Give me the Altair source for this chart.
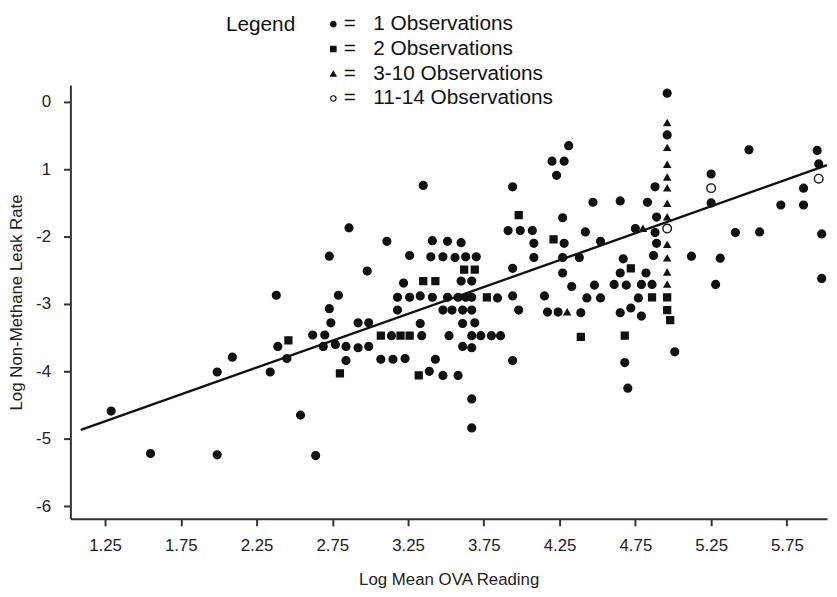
import altair as alt
import pandas as pd

# ---- data ----
c1_x = [1.29, 1.55, 1.99, 1.99, 2.09, 2.34, 2.39, 2.38, 2.45, 2.54, 2.62, 2.64, 2.70, 2.69,
        2.73, 2.74, 2.77, 2.84, 2.84, 2.92, 2.92, 2.99, 2.99, 2.86, 2.73, 2.98, 2.79,
        3.35, 3.11, 3.41, 3.51, 3.60,
        3.26, 3.40, 3.48, 3.56, 3.63, 3.70,
        3.22, 3.60, 3.67,
        3.18, 3.26, 3.33, 3.41, 3.51, 3.58, 3.63, 3.67, 3.84,
        3.18, 3.48, 3.54, 3.61, 3.67,
        3.33, 3.61, 3.69,
        3.14, 3.34, 3.52, 3.67, 3.73, 3.80, 3.86,
        3.61, 3.67,
        3.07, 3.15, 3.23, 3.43,
        3.39, 3.48, 3.58,
        3.67, 3.67,
        3.94, 3.91, 3.99, 3.94, 3.94, 3.98, 3.94,
        4.31, 4.20, 4.28, 4.23,
        4.47, 4.65, 4.83, 4.88,
        4.27, 4.07, 4.42, 4.75,
        4.08, 4.28, 4.52,
        4.08, 4.27, 4.38, 4.67,
        4.27, 4.65, 4.82,
        4.33, 4.48, 4.61, 4.69, 4.79, 4.86,
        4.15, 4.43, 4.52, 4.77,
        4.17, 4.24, 4.39, 4.65, 4.72, 4.79,
        4.68, 4.70,
        4.89, 4.88, 4.89, 4.87,
        5.01,
        4.96, 4.96,
        5.25, 5.25, 5.12, 5.31, 5.28, 5.41, 5.50, 5.57, 5.71, 5.86, 5.86, 5.95, 5.96, 5.98, 5.98]
c1_y = [-4.59, -5.22, -4.01, -5.24, -3.79, -4.01, -3.63, -2.87, -3.81, -4.65, -3.46, -5.25, -3.46, -3.63,
        -3.07, -3.28, -3.60, -3.63, -3.84, -3.28, -3.65, -3.28, -3.63, -1.87, -2.29, -2.51, -2.87,
        -1.24, -2.07, -2.06, -2.07, -2.09,
        -2.28, -2.30, -2.30, -2.31, -2.30, -2.30,
        -2.69, -2.66, -2.66,
        -2.90, -2.90, -2.88, -2.90, -2.90, -2.90, -2.90, -2.90, -2.91,
        -3.09, -3.09, -3.09, -3.09, -3.09,
        -3.29, -3.29, -3.28,
        -3.47, -3.47, -3.47, -3.47, -3.47, -3.47, -3.47,
        -3.63, -3.65,
        -3.82, -3.82, -3.81, -3.82,
        -4.00, -4.06, -4.06,
        -4.41, -4.84,
        -1.26, -1.91, -1.91, -2.47, -2.88, -3.09, -3.84,
        -0.65, -0.88, -0.88, -1.09,
        -1.49, -1.47, -1.49, -1.26,
        -1.72, -1.91, -1.93, -1.88,
        -2.10, -2.10, -2.07,
        -2.31, -2.31, -2.31, -2.33,
        -2.54, -2.54, -2.54,
        -2.74, -2.72, -2.71, -2.72, -2.71, -2.71,
        -2.88, -2.91, -2.91, -2.91,
        -3.12, -3.12, -3.13, -3.13, -3.06, -3.18,
        -3.87, -4.25,
        -1.71, -1.94, -2.10, -2.28,
        -3.71,
        0.13, -0.49,
        -1.07, -1.50, -2.29, -2.32, -2.71, -1.94, -0.71, -1.93, -1.53, -1.53, -1.28, -0.72, -0.92, -1.96, -2.62]

c2_x = [2.46, 2.80, 3.62, 3.69, 3.35, 3.43, 3.77, 3.07, 3.20, 3.26, 3.32, 3.98, 4.21, 4.39,
        4.68, 4.72, 4.86, 4.96, 4.96, 4.98]
c2_y = [-3.54, -4.03, -2.49, -2.49, -2.66, -2.66, -2.90, -3.47, -3.47, -3.47, -4.06, -1.68, -2.04, -3.49,
        -3.47, -2.47, -2.90, -2.90, -3.09, -3.24]

c3_x = [4.30, 4.80, 4.96, 4.96, 4.96, 4.96, 4.96, 4.96, 4.96, 4.96, 4.96, 4.96, 4.96]
c3_y = [-3.12, -1.88, -0.31, -0.68, -0.93, -1.12, -1.28, -1.51, -1.71, -2.12, -2.32, -2.53, -2.71]

c4_x = [4.96, 5.25, 5.96]
c4_y = [-1.88, -1.28, -1.14]

categories = ["1 Observations", "2 Observations", "3-10 Observations", "11-14 Observations"]

fit_intercept = -5.74
fit_slope = 0.798
fit_x = [1.09, 6.015]

x_ticks = [1.25, 1.75, 2.25, 2.75, 3.25, 3.75, 4.25, 4.75, 5.25, 5.75]
y_ticks = [0, -1, -2, -3, -4, -5, -6]

# ---- build tables ----
marker_area = {"1 Observations": 62, "2 Observations": 48,
               "3-10 Observations": 38, "11-14 Observations": 75}
rows = []
for cat, xs, ys in zip(categories, [c1_x, c2_x, c3_x, c4_x], [c1_y, c2_y, c3_y, c4_y]):
    for a, b in zip(xs, ys):
        rows.append({"x": a, "y": b, "cat": cat, "sz": marker_area[cat]})
df = pd.DataFrame(rows)
line_df = pd.DataFrame({"x": fit_x, "y": [fit_intercept + fit_slope * v for v in fit_x]})

FONT = "Liberation Sans"
xscale = alt.Scale(domain=[1.021, 6.015], nice=False, zero=False)
yscale = alt.Scale(domain=[-6.19, 0.25], nice=False, zero=False)

legend = alt.Legend(title="Legend", orient="none", legendX=157, legendY=-72,
                    titleOrient="left", titleAnchor="start", titlePadding=27,
                    labelExpr="'=\u00a0\u00a0\u00a0' + datum.label", labelLimit=0,
                    symbolSize=30, symbolStrokeWidth=1.2, symbolStrokeColor="#111",
                    rowPadding=3, labelOffset=0,
                    labelFontSize=21, titleFontSize=21,
                    titleFontWeight="normal", labelFont=FONT, titleFont=FONT,
                    labelColor="#111", titleColor="#111")

points = alt.Chart(df).mark_point(opacity=1, fillOpacity=1, strokeWidth=1.4).encode(
    x=alt.X("x:Q", scale=xscale,
            axis=alt.Axis(title="Log Mean OVA Reading", values=x_ticks, format=".2f")),
    y=alt.Y("y:Q", scale=yscale,
            axis=alt.Axis(title="Log Non-Methane Leak Rate", values=y_ticks,
                          labelExpr="datum.value == -1 ? '1' : '' + datum.value")),
    shape=alt.Shape("cat:N", scale=alt.Scale(domain=categories,
                    range=["circle", "square", "triangle-up", "circle"]), legend=legend),
    fill=alt.Fill("cat:N", scale=alt.Scale(domain=categories,
                  range=["#111", "#111", "#111", "white"]), legend=legend),
    stroke=alt.Stroke("cat:N", scale=alt.Scale(domain=categories,
                      range=["#111", "#111", "#111", "#111"]), legend=legend),
    size=alt.Size("sz:Q", scale=None),
)

fit_line = alt.Chart(line_df).mark_line(color="#111", strokeWidth=2.4, clip=True).encode(
    x=alt.X("x:Q", scale=xscale), y=alt.Y("y:Q", scale=yscale))

chart = alt.layer(fit_line, points).properties(
    width=764, height=438,
    autosize=alt.AutoSizeParams(type="none"),
    padding={"left": 63, "top": 75, "right": 2, "bottom": 68},
).configure_view(stroke=None).configure_axis(
    grid=False, domainColor="#333", domainWidth=2, tickColor="#333", tickWidth=2, tickSize=7,
    labelFont=FONT, titleFont=FONT, labelFontSize=17, titleFontSize=17, titleFontWeight="normal",
    labelColor="#222", titleColor="#222",
).configure_axisX(labelPadding=12, titlePadding=18).configure_axisY(labelPadding=13, titlePadding=10)

chart.save("out.html", embed_options={"renderer": "svg", "actions": False})
